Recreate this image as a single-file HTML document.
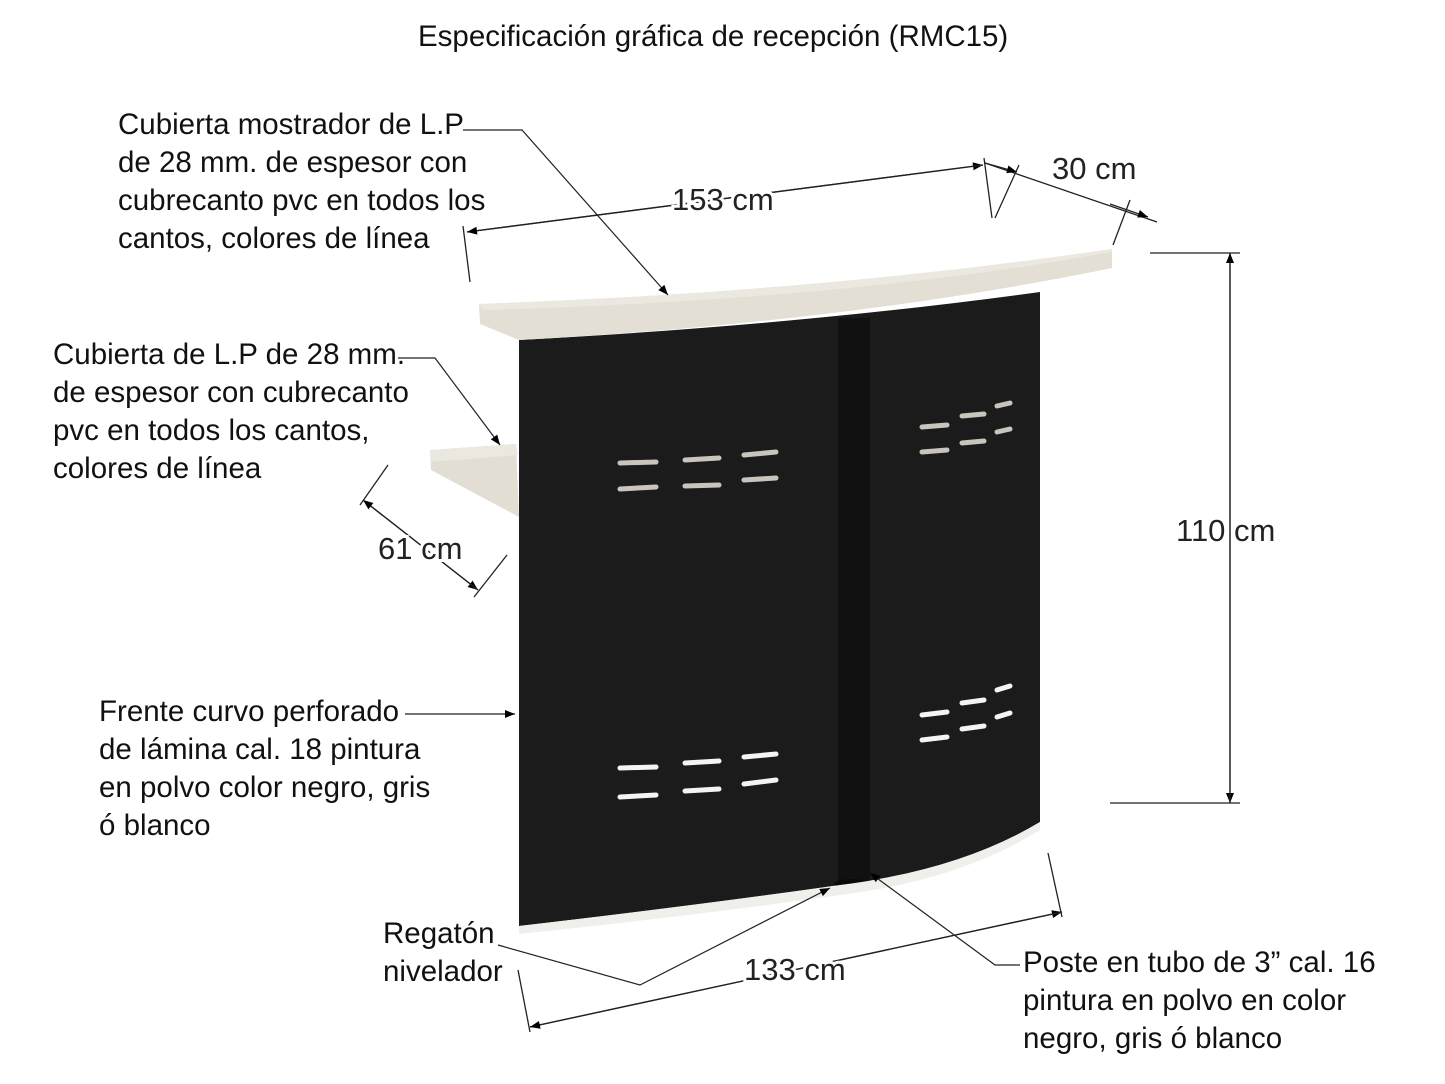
<!DOCTYPE html>
<html><head><meta charset="utf-8"><style>
html,body{margin:0;padding:0;background:#fff}
svg{display:block}
.t{font-family:"Liberation Sans",sans-serif;font-size:29.5px;fill:#111}
.d{font-family:"Liberation Sans",sans-serif;font-size:31px;fill:#222}
</style></head><body>
<svg width="1445" height="1084" viewBox="0 0 1445 1084" xmlns="http://www.w3.org/2000/svg">
<defs>
<marker id="a" viewBox="0 0 10 10" refX="10" refY="5" markerWidth="14" markerHeight="10" markerUnits="userSpaceOnUse" orient="auto"><path d="M0,1 L10,5 L0,9 Z" fill="#000"/></marker>
</defs>
<text x="418" y="46" class="t" font-size="29.5">Especificación gráfica de recepción (RMC15)</text>

<!-- side shelf -->
<path d="M430,450 L516,444 L519,517 L431,470 Z" fill="#e2ded3"/>
<path d="M430,450 L516,444 L518,455 L431,462 Z" fill="#ebe8e0"/>
<!-- panel -->
<path d="M519,340 Q800,325 1040,292 L1040,822 Q960,870 840,885 Q700,905 519,926 Z" fill="#1b1b1b"/>
<rect x="838" y="318" width="32" height="570" fill="#111"/>
<ellipse cx="852" cy="884" rx="18" ry="5" fill="#0a0a0a"/>
<path d="M519,926 Q700,905 840,885 Q960,870 1040,822 L1040,830 Q960,880 840,895 Q700,915 519,934 Z" fill="#f0efec"/>
<!-- countertop -->
<path d="M479,304 Q820,292 1112,249 L1112,268 Q850,322 519,340 L480,324 Z" fill="#e3dfd4"/>
<path d="M479,304 Q820,292 1112,249 L1111,252 Q850,300 482,310 Z" fill="#ebe8e0"/>
<!-- slots -->
<g stroke="#c9c5bc" stroke-width="5" stroke-linecap="round">
<line x1="620" y1="463" x2="656" y2="462"/><line x1="685" y1="460" x2="719" y2="458"/><line x1="744" y1="455" x2="776" y2="452"/>
<line x1="620" y1="489" x2="656" y2="487"/><line x1="685" y1="486" x2="719" y2="485"/><line x1="744" y1="480" x2="776" y2="478"/>
<line x1="922" y1="427" x2="947" y2="425"/><line x1="962" y1="416" x2="984" y2="414"/><line x1="997" y1="406" x2="1010" y2="403"/>
<line x1="922" y1="452" x2="947" y2="450"/><line x1="962" y1="443" x2="984" y2="441"/><line x1="997" y1="432" x2="1010" y2="429"/>
</g>
<g stroke="#f4f4f4" stroke-width="5" stroke-linecap="round">
<line x1="620" y1="768" x2="656" y2="767"/><line x1="685" y1="763" x2="719" y2="761"/><line x1="744" y1="757" x2="776" y2="754"/>
<line x1="620" y1="797" x2="656" y2="795"/><line x1="685" y1="791" x2="719" y2="789"/><line x1="744" y1="784" x2="776" y2="780"/>
<line x1="922" y1="715" x2="947" y2="712"/><line x1="962" y1="703" x2="984" y2="700"/><line x1="997" y1="690" x2="1010" y2="686"/>
<line x1="922" y1="740" x2="947" y2="737"/><line x1="962" y1="729" x2="984" y2="726"/><line x1="997" y1="717" x2="1010" y2="713"/>
</g>

<!-- dimension lines -->
<g stroke="#222" stroke-width="1.3" fill="none">
<line x1="467" y1="232" x2="983" y2="165" marker-end="url(#a)"/>
<line x1="983" y1="165" x2="467" y2="232" marker-end="url(#a)"/>
<line x1="463" y1="226" x2="470" y2="282"/>
<line x1="984" y1="158" x2="992" y2="218"/>
<line x1="985" y1="163" x2="1157" y2="222"/>
<line x1="985" y1="163" x2="1017" y2="172" marker-end="url(#a)"/>
<line x1="1110" y1="204" x2="1148" y2="217" marker-end="url(#a)"/>
<line x1="1019" y1="165" x2="995" y2="218"/>
<line x1="1130" y1="200" x2="1113" y2="245"/>
<line x1="1230" y1="253" x2="1230" y2="803" marker-end="url(#a)"/>
<line x1="1230" y1="803" x2="1230" y2="253" marker-end="url(#a)"/>
<line x1="1150" y1="253" x2="1240" y2="253"/>
<line x1="1110" y1="803" x2="1240" y2="803"/>
<line x1="363" y1="500" x2="478" y2="590" marker-end="url(#a)"/>
<line x1="478" y1="590" x2="363" y2="500" marker-end="url(#a)"/>
<line x1="388" y1="465" x2="360" y2="505"/>
<line x1="507" y1="555" x2="474" y2="597"/>
<line x1="530" y1="1027" x2="1062" y2="912" marker-end="url(#a)"/>
<line x1="1062" y1="912" x2="530" y2="1027" marker-end="url(#a)"/>
<line x1="518" y1="970" x2="530" y2="1032"/>
<line x1="1048" y1="853" x2="1062" y2="917"/>
</g>
<!-- leaders -->
<g stroke="#222" stroke-width="1.2" fill="none">
<polyline points="463,130 522,130 668,295" marker-end="url(#a)"/>
<polyline points="398,358 435,358 500,445" marker-end="url(#a)"/>
<line x1="405" y1="714" x2="515" y2="714" marker-end="url(#a)"/>
<polyline points="498,945 640,985 830,888" marker-end="url(#a)"/>
<polyline points="1020,965 995,965 870,873" marker-end="url(#a)"/>
</g>
<g class="d" stroke="#fff" stroke-width="6" paint-order="stroke">
<text x="672" y="210">153 cm</text>
<text x="1052" y="179">30 cm</text>
<text x="1176" y="541">110 cm</text>
<text x="378" y="559">61 cm</text>
<text x="744" y="980">133 cm</text>
</g>

<g class="t">
<text x="118" y="134">Cubierta mostrador de L.P</text>
<text x="118" y="172">de 28 mm. de espesor con</text>
<text x="118" y="210">cubrecanto pvc en todos los</text>
<text x="118" y="248">cantos, colores de línea</text>
<text x="53" y="364">Cubierta de L.P de 28 mm.</text>
<text x="53" y="402">de espesor con cubrecanto</text>
<text x="53" y="440">pvc en todos los cantos,</text>
<text x="53" y="478">colores de línea</text>
<text x="99" y="721">Frente curvo perforado</text>
<text x="99" y="759">de lámina cal. 18 pintura</text>
<text x="99" y="797">en polvo color negro, gris</text>
<text x="99" y="835">ó blanco</text>
<text x="383" y="943">Regatón</text>
<text x="383" y="981">nivelador</text>
<text x="1023" y="972">Poste en tubo de 3” cal. 16</text>
<text x="1023" y="1010">pintura en polvo en color</text>
<text x="1023" y="1048">negro, gris ó blanco</text>
</g>
</svg>
</body></html>
